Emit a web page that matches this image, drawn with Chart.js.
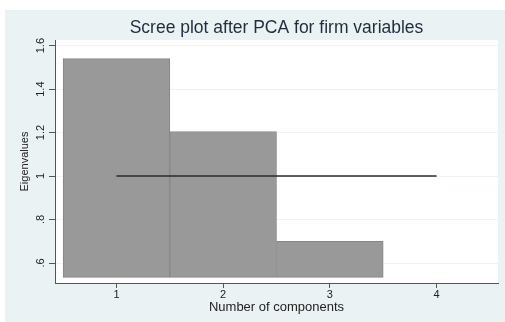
<!DOCTYPE html>
<html>
<head>
<meta charset="utf-8">
<title>Scree plot after PCA for firm variables</title>
<script src="https://cdn.jsdelivr.net/npm/chart.js@4/dist/chart.umd.min.js"></script>
<style>
  html, body { margin: 0; padding: 0; background: #ffffff; }
  canvas { display: block; }
</style>
</head>
<body>
<canvas id="scree" width="505" height="322"></canvas>
<script>
// Eigenvalue of each retained principal component
const components = [1, 2, 3];
const eigenvalues = [1.54, 1.205, 0.70];
// Bars rise from this level rather than from zero
const barBase = 0.534;

// Kaiser criterion reference line (eigenvalue = 1)
const refLineX = [1, 4];
const refLineY = [1, 1];

// Axis ticks and their labels
const xTicks = [1, 2, 3, 4];
const xTickLabels = ['1', '2', '3', '4'];
const yTicks = [0.6, 0.8, 1.0, 1.2, 1.4, 1.6];
const yTickLabels = ['.6', '.8', '1', '1.2', '1.4', '1.6'];

const FONT = 'Liberation Sans, Arial, Helvetica, sans-serif';
Chart.defaults.font.family = FONT;

function labelFor(ticks, labels, v) {
  const i = ticks.findIndex(t => Math.abs(t - v) < 1e-9);
  return i >= 0 ? labels[i] : '';
}

// Light graph region with a white plot region
const backdrop = {
  id: 'backdrop',
  beforeDraw(chart) {
    const { ctx, width, height, chartArea: a } = chart;
    ctx.save();
    ctx.fillStyle = '#ffffff';
    ctx.fillRect(0, 0, width, height);
    ctx.fillStyle = '#eaf2f3';
    ctx.fillRect(5, 10, width - 5, height - 10);
    ctx.fillStyle = '#ffffff';
    ctx.fillRect(a.left, a.top, a.right - a.left, a.bottom - a.top);
    ctx.restore();
  }
};

new Chart(document.getElementById('scree'), {
  type: 'bar',
  data: {
    datasets: [
      {
        type: 'line',
        data: refLineX.map((x, i) => ({ x, y: refLineY[i] })),
        borderColor: '#2a2a2a',
        borderWidth: 1.5,
        pointRadius: 0,
        fill: false,
        order: 0
      },
      {
        type: 'bar',
        data: components.map((x, i) => ({ x, y: [barBase, eigenvalues[i]] })),
        backgroundColor: '#999999',
        borderColor: '#878787',
        borderWidth: 1,
        borderSkipped: false,
        barPercentage: 1,
        categoryPercentage: 1,
        order: 1
      }
    ]
  },
  options: {
    responsive: false,
    animation: false,
    devicePixelRatio: 1,
    layout: { padding: { left: 0, right: 7, top: 0, bottom: 0 } },
    plugins: {
      legend: { display: false },
      tooltip: { enabled: false },
      title: {
        display: true,
        text: 'Scree plot after PCA for firm variables',
        fullSize: false,
        color: '#1f2d3d',
        font: { family: FONT, size: 17.5, weight: 'normal' },
        padding: { top: 18, bottom: 1 }
      }
    },
    scales: {
      x: {
        type: 'linear',
        position: 'bottom',
        min: 0.424,
        max: 4.576,
        offset: false,
        afterBuildTicks: s => { s.ticks = xTicks.map(v => ({ value: v })); },
        afterFit: s => { s.height = 39; },
        grid: { drawOnChartArea: false, drawTicks: true, tickLength: 5, tickColor: '#555555', offset: false },
        border: { display: true, color: '#555555', width: 1 },
        ticks: {
          autoSkip: false,
          maxRotation: 0,
          padding: 0,
          color: '#222222',
          font: { family: FONT, size: 11 },
          callback: v => labelFor(xTicks, xTickLabels, v)
        },
        title: {
          display: true,
          text: 'Number of components',
          color: '#222222',
          font: { family: FONT, size: 13 },
          padding: { top: 0, bottom: 7.2 }
        }
      },
      y: {
        type: 'linear',
        position: 'left',
        min: 0.508,
        max: 1.626,
        afterBuildTicks: s => { s.ticks = yTicks.map(v => ({ value: v })); },
        afterFit: s => { s.width = 55; },
        grid: { color: '#eef3f5', tickColor: '#555555', tickLength: 6, drawTicks: true },
        border: { display: true, color: '#555555', width: 1 },
        ticks: {
          autoSkip: false,
          minRotation: 90,
          maxRotation: 90,
          crossAlign: 'center',
          padding: 0.4,
          color: '#222222',
          font: { family: FONT, size: 11 },
          callback: v => labelFor(yTicks, yTickLabels, v)
        },
        title: {
          display: true,
          text: 'Eigenvalues',
          color: '#222222',
          font: { family: FONT, size: 11 },
          padding: { top: 18.1, bottom: 0 }
        }
      }
    }
  },
  plugins: [backdrop]
});
</script>
</body>
</html>
